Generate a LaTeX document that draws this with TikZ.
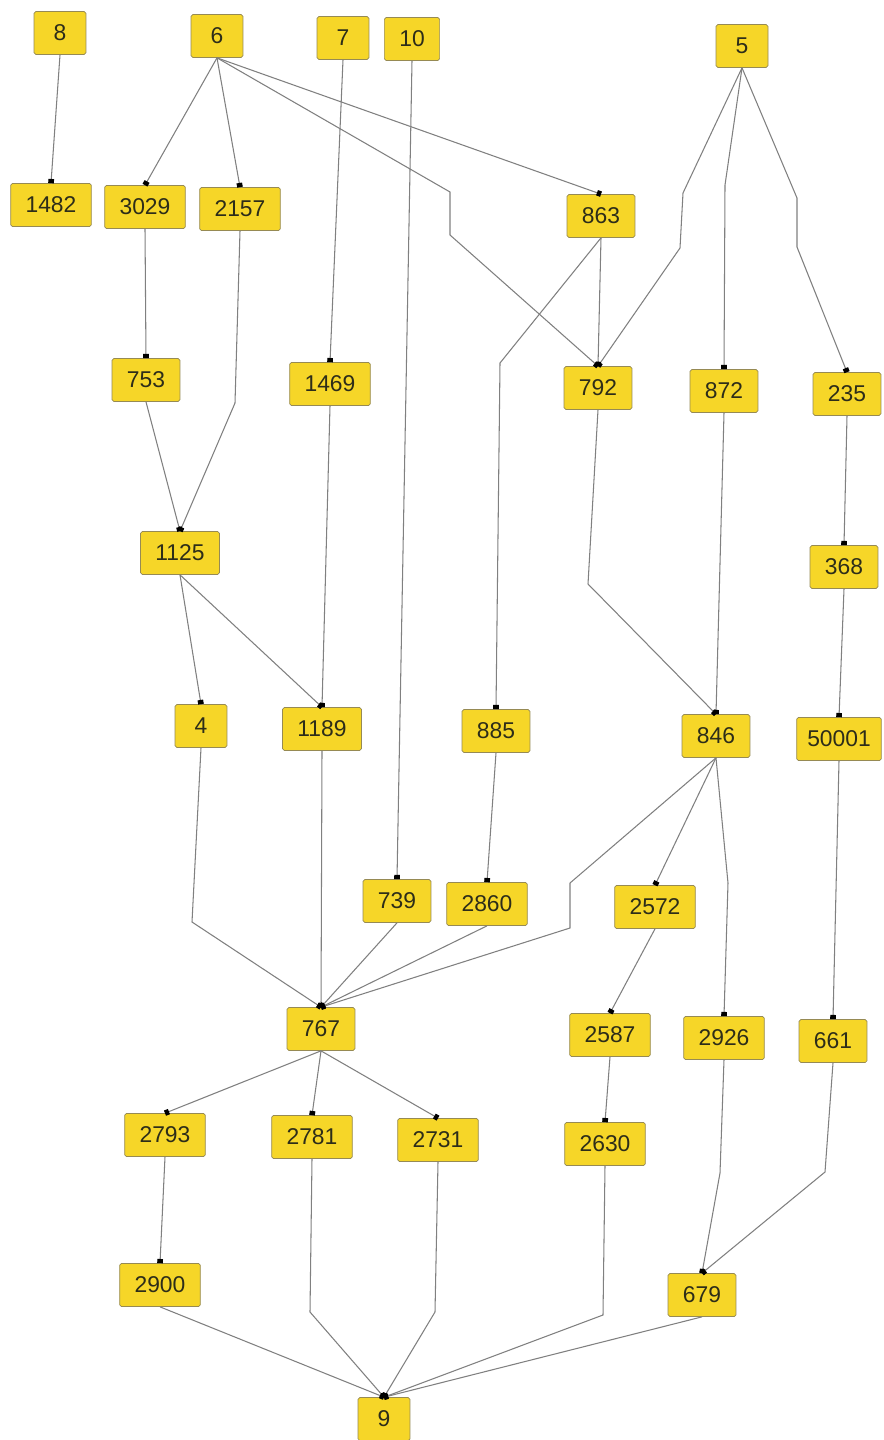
\documentclass[tikz,border=0pt]{standalone}
\usepackage{fontspec}
\setmainfont{Liberation Sans}
\usepackage{xcolor}
\usetikzlibrary{arrows.meta}

\definecolor{boxfill}{RGB}{246,214,40}
\definecolor{boxline}{RGB}{150,138,84}
\definecolor{edgegray}{RGB}{128,128,128}
\definecolor{digit}{RGB}{45,45,25}

\begin{document}
\begin{tikzpicture}[x=0.02cm, y=-0.02cm,
    box/.style={draw=boxline, fill=boxfill, rounded corners=1pt, minimum height=0.86cm,
        minimum width=1.04cm, inner xsep=8.5pt, text=digit, font=\fontsize{13}{15}\selectfont},
    edge/.style={draw=edgegray, line width=0.6pt, -{Square[length=2.4pt,width=3.2pt,color=black]}}]
    \fill[white] (0,0) rectangle (884,1440);
    \useasboundingbox (0,0) rectangle (884,1440);

    \node[box] (n8) at (60,33) {8};
    \node[box] (n6) at (217,36) {6};
    \node[box] (n7) at (343,38) {7};
    \node[box] (n10) at (412,39) {10};
    \node[box] (n5) at (742,46) {5};

    \node[box] (n1482) at (51,205) {1482};
    \node[box] (n3029) at (145,207) {3029};
    \node[box] (n2157) at (240,209) {2157};
    \node[box] (n863) at (601,216) {863};

    \node[box] (n753) at (146,380) {753};
    \node[box] (n1469) at (330,384) {1469};
    \node[box] (n792) at (598,388) {792};
    \node[box] (n872) at (724,391) {872};
    \node[box] (n235) at (847,394) {235};

    \node[box] (n1125) at (180,553) {1125};
    \node[box] (n368) at (844,567) {368};

    \node[box] (n4) at (201,726) {4};
    \node[box] (n1189) at (322,729) {1189};
    \node[box] (n885) at (496,731) {885};
    \node[box] (n846) at (716,736) {846};
    \node[box, inner xsep=6pt] (n50001) at (839,739) {50001};

    \node[box] (n739) at (397,901) {739};
    \node[box] (n2860) at (487,904) {2860};
    \node[box] (n2572) at (655,907) {2572};

    \node[box] (n767) at (321,1029) {767};
    \node[box] (n2587) at (610,1035) {2587};
    \node[box] (n2926) at (724,1038) {2926};
    \node[box] (n661) at (833,1041) {661};

    \node[box] (n2793) at (165,1135) {2793};
    \node[box] (n2781) at (312,1137) {2781};
    \node[box] (n2731) at (438,1140) {2731};
    \node[box] (n2630) at (605,1144) {2630};

    \node[box] (n2900) at (160,1285) {2900};
    \node[box] (n679) at (702,1295) {679};
    \node[box] (n9) at (384,1419) {9};

    \draw[edge] (n8.south) -- (n1482.north);
    \draw[edge] (n6.south) -- (n3029.north);
    \draw[edge] (n6.south) -- (n2157.north);
    \draw[edge] (n6.south) -- (n863.north);
    \draw[edge] (n6.south) -- (450,192) -- (450,235) -- (n792.north);
    \draw[edge] (n7.south) -- (n1469.north);
    \draw[edge] (n10.south) -- (n739.north);
    \draw[edge] (n5.south) -- (683,193) -- (680,248) -- (n792.north);
    \draw[edge] (n5.south) -- (725,185) -- (n872.north);
    \draw[edge] (n5.south) -- (797,198) -- (797,247) -- (n235.north);

    \draw[edge] (n3029.south) -- (n753.north);
    \draw[edge] (n2157.south) -- (235,403) -- (n1125.north);
    \draw[edge] (n863.south) -- (n792.north);
    \draw[edge] (n863.south) -- (500,363) -- (n885.north);

    \draw[edge] (n753.south) -- (n1125.north);
    \draw[edge] (n1469.south) -- (n1189.north);
    \draw[edge] (n792.south) -- (588,584) -- (n846.north);
    \draw[edge] (n872.south) -- (n846.north);
    \draw[edge] (n235.south) -- (n368.north);
    \draw[edge] (n368.south) -- (n50001.north);

    \draw[edge] (n1125.south) -- (n4.north);
    \draw[edge] (n1125.south) -- (n1189.north);

    \draw[edge] (n4.south) -- (192,922) -- (n767.north);
    \draw[edge] (n1189.south) -- (n767.north);
    \draw[edge] (n885.south) -- (n2860.north);
    \draw[edge] (n846.south) -- (570,883) -- (570,928) -- (n767.north);
    \draw[edge] (n846.south) -- (n2572.north);
    \draw[edge] (n846.south) -- (728,883) -- (n2926.north);
    \draw[edge] (n50001.south) -- (n661.north);

    \draw[edge] (n739.south) -- (n767.north);
    \draw[edge] (n2860.south) -- (n767.north);
    \draw[edge] (n2572.south) -- (n2587.north);

    \draw[edge] (n767.south) -- (n2793.north);
    \draw[edge] (n767.south) -- (n2781.north);
    \draw[edge] (n767.south) -- (n2731.north);
    \draw[edge] (n2587.south) -- (n2630.north);
    \draw[edge] (n2926.south) -- (720,1173) -- (n679.north);
    \draw[edge] (n661.south) -- (825,1172) -- (n679.north);

    \draw[edge] (n2793.south) -- (n2900.north);
    \draw[edge] (n2781.south) -- (310,1312) -- (n9.north);
    \draw[edge] (n2731.south) -- (435,1312) -- (n9.north);
    \draw[edge] (n2630.south) -- (603,1315) -- (n9.north);
    \draw[edge] (n2900.south) -- (n9.north);
    \draw[edge] (n679.south) -- (n9.north);
\end{tikzpicture}
\end{document}
